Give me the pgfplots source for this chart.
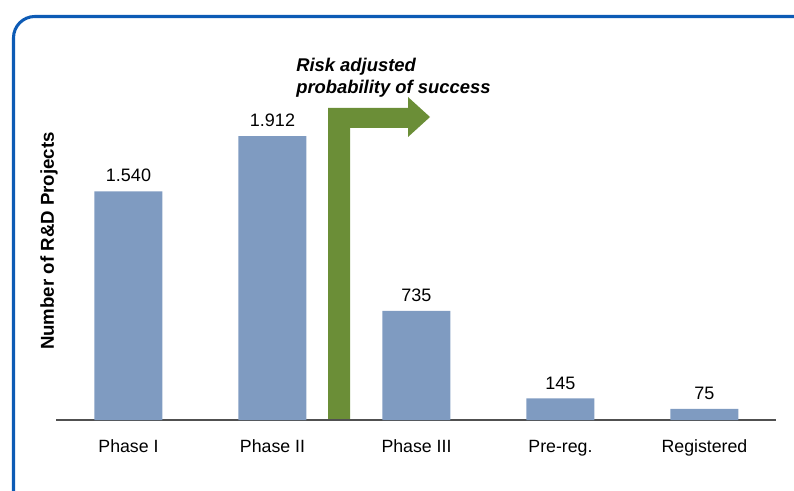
\documentclass[border=0pt]{standalone}
\usepackage{pgfplots}
\pgfplotsset{compat=1.18}
\usepackage{pgfplotstable}
\usepackage{fontspec}
\setmainfont{Liberation Sans}

\definecolor{barblue}{HTML}{7F9BC1}
\definecolor{arrowgreen}{HTML}{6B8E37}
\definecolor{framebl}{HTML}{0D5BB5}
\definecolor{axisgrey}{HTML}{505050}

% Number of R&D projects per development stage
\pgfplotstableread{
x  y     label
0  1540  1.540
1  1912  1.912
2  735   735
3  145   145
4  75    75
}\projects

\begin{document}
\begin{tikzpicture}
\useasboundingbox (0,0) rectangle (595.5pt,367.5pt);

% frame and annotation, laid out on a 0.75pt grid measured from the top left
\begin{scope}[x=0.75pt,y=-0.75pt,yshift=367.5pt]
  \begin{scope}
    \clip (0,0) rectangle (794,490);
    \draw[framebl, line width=2.3pt, rounded corners=16pt]
      (13.5,16.5) rectangle (830,530);
  \end{scope}
  % risk-adjusted success arrow
  \fill[arrowgreen] (328,420) -- (328,108) -- (408,108) -- (408,97)
    -- (430,117) -- (408,137) -- (408,128) -- (350,128) -- (350,420) -- cycle;
  \node[anchor=base west, inner sep=0pt, font=\fontsize{13.8}{16}\selectfont\bfseries\itshape]
    at (296,72) {Risk adjusted};
  \node[anchor=base west, inner sep=0pt, font=\fontsize{13.8}{16}\selectfont\bfseries\itshape]
    at (296,94) {probability of success};
  \node[rotate=90, inner sep=0pt, font=\fontsize{14}{16}\selectfont\bfseries]
    at (49,241) {Number of R\&D Projects};
\end{scope}

\begin{axis}[
  at={(42.375pt,52.5pt)}, anchor=south west,
  scale only axis, width=540pt, height=222.75pt,
  xmin=-0.5, xmax=4.5, ymin=0, ymax=2000,
  enlargelimits=false, clip=false,
  axis x line=bottom, axis y line=none,
  x axis line style={draw=axisgrey, line width=1.6pt, -},
  xtick=data, xticklabels={Phase I, Phase II, Phase III, Pre-reg., Registered},
  major tick length=0pt, ytick=\empty,
  xticklabel style={anchor=base, inner sep=0pt, yshift=-24pt,
    font=\fontsize{13.3}{15}\selectfont},
  ybar, bar width=51pt,
  point meta=explicit symbolic,
  nodes near coords={\pgfplotspointmeta},
  nodes near coords style={anchor=base, inner sep=0pt, yshift=7pt,
    font=\fontsize{13.5}{15}\selectfont, text=black},
]
\addplot[fill=barblue, draw=none] table[x=x, y=y, meta=label] {\projects};
\end{axis}
\end{tikzpicture}
\end{document}
